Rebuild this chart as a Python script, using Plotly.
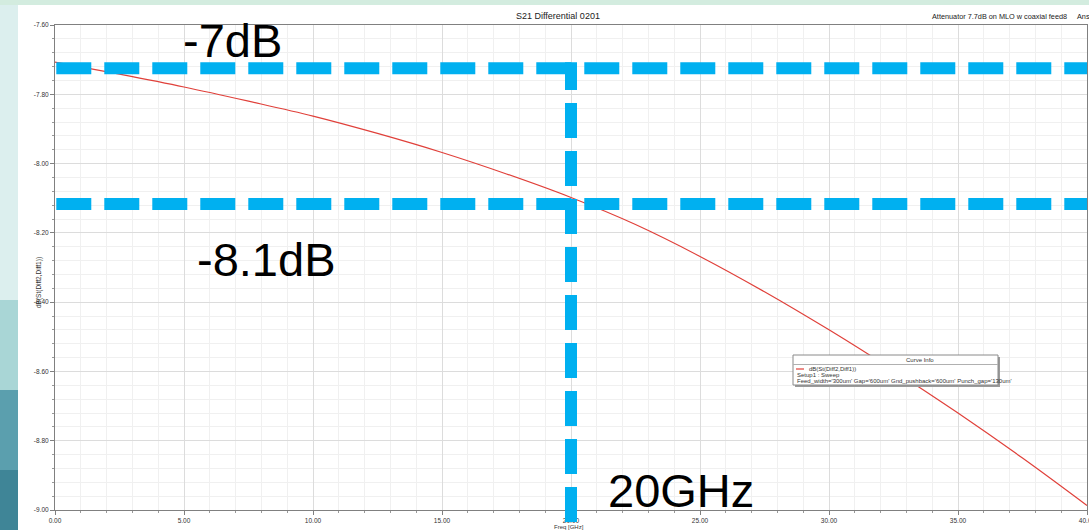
import plotly.graph_objects as go

# ---- data ----
freq_ghz = [0, 2.5, 5, 7.5, 10, 12.5, 15, 17.5, 20, 22.5, 25, 27.5, 30, 32.5, 35, 37.5, 40]
s21_db = [-7.707, -7.742, -7.779, -7.820, -7.863, -7.913, -7.968, -8.030, -8.098,
          -8.176, -8.268, -8.370, -8.480, -8.597, -8.720, -8.850, -8.987]

marker_levels_db = [-7.725, -8.117]
marker_freq_ghz = [20]
marker_labels = ["-7dB", "-8.1dB", "20GHz"]

x_tickvals = [0, 5, 10, 15, 20, 25, 30, 35, 40]
x_ticktext = ["0.00", "5.00", "10.00", "15.00", "20.00", "25.00", "30.00", "35.00", "40.00"]
y_tickvals = [-9.0, -8.8, -8.6, -8.4, -8.2, -8.0, -7.8, -7.6]
y_ticktext = ["-9.00", "-8.80", "-8.60", "-8.40", "-8.20", "-8.00", "-7.80", "-7.60"]

W, H = 1089, 530
L, R, T, B = 55, 2, 25, 20
PW, PH = W - L - R, H - T - B


def px(xpix):
    return (xpix - L) / PW


def py(ypix):
    return (H - B - ypix) / PH


BLUE = "#00B0F0"
FONT = "Arial, Liberation Sans, sans-serif"

fig = go.Figure()
fig.add_trace(go.Scatter(x=freq_ghz, y=s21_db, mode="lines", line=dict(color="#e0403a", width=1.2, shape="spline"),
                         name="dB(St(Diff2,Diff1))", showlegend=False, hoverinfo="x+y"))

shapes = []
# slide background pieces
shapes.append(dict(type="rect", xref="paper", yref="paper", x0=px(0), x1=px(W), y0=py(H), y1=py(0),
                   fillcolor="#dcefee", line=dict(width=0), layer="below"))
shapes.append(dict(type="rect", xref="paper", yref="paper", x0=px(0), x1=px(W), y0=py(5), y1=py(0),
                   fillcolor="#d3ecdf", line=dict(width=0), layer="below"))
shapes.append(dict(type="rect", xref="paper", yref="paper", x0=px(0), x1=px(18), y0=py(390), y1=py(300),
                   fillcolor="#a9d6d6", line=dict(width=0), layer="below"))
shapes.append(dict(type="rect", xref="paper", yref="paper", x0=px(0), x1=px(18), y0=py(470), y1=py(390),
                   fillcolor="#5b9fae", line=dict(width=0), layer="below"))
shapes.append(dict(type="rect", xref="paper", yref="paper", x0=px(0), x1=px(18), y0=py(H), y1=py(470),
                   fillcolor="#3f8597", line=dict(width=0), layer="below"))
# white chart panel
shapes.append(dict(type="rect", xref="paper", yref="paper", x0=px(18), x1=px(W + 5), y0=py(H + 5), y1=py(5),
                   fillcolor="white", line=dict(width=0), layer="below"))

# blue dashed marker lines
for lvl in marker_levels_db:
    shapes.append(dict(type="line", xref="x", yref="y", x0=0.05, x1=40, y0=lvl, y1=lvl,
                       line=dict(color=BLUE, width=12, dash="35px,13px"), layer="above"))
for f in marker_freq_ghz:
    shapes.append(dict(type="line", xref="x", yref="paper", x0=f, x1=f,
                       y0=py(522), y1=(marker_levels_db[0] + 9.0) / 1.4 + 6 / PH,
                       line=dict(color=BLUE, width=12, dash="35px,13px"), layer="above"))

# legend box ("Curve Info")
shapes.append(dict(type="rect", xref="paper", yref="paper", x0=px(795), x1=px(1000), y0=py(387), y1=py(357),
                   fillcolor="#9a9a9a", line=dict(width=0), layer="above"))
shapes.append(dict(type="rect", xref="paper", yref="paper", x0=px(793), x1=px(998), y0=py(385), y1=py(355),
                   fillcolor="white", line=dict(color="#8a8a8a", width=1), layer="above"))
shapes.append(dict(type="line", xref="paper", yref="paper", x0=px(793), x1=px(998), y0=py(364.5), y1=py(364.5),
                   line=dict(color="#b0b0b0", width=1), layer="above"))
shapes.append(dict(type="line", xref="paper", yref="paper", x0=px(796), x1=px(804), y0=py(369), y1=py(369),
                   line=dict(color="#e0403a", width=1.2), layer="above"))

annotations = []


def ann(text, xpix, ypix, size, xanchor="center", color="black", yanchor="middle"):
    annotations.append(dict(text=text, x=px(xpix), y=py(ypix), xref="paper", yref="paper",
                            showarrow=False, xanchor=xanchor, yanchor=yanchor,
                            font=dict(family=FONT, size=size, color=color)))


ann("S21 Differential 0201", 558, 16, 9, color="#222")
ann("Attenuator 7.7dB on MLO w coaxial feed8", 1069, 16, 7.3, xanchor="right", color="#222")
ann("Ans", 1075, 16, 7.3, xanchor="left", color="#222")
ann("Freq [GHz]", 569, 526.5, 6, color="#333")
annotations.append(dict(text="dB(St(Diff2,Diff1))", x=px(33), y=py(283), xref="paper", yref="paper",
                        showarrow=False, textangle=-90, font=dict(family=FONT, size=6.5, color="#333")))

ann("Curve Info", 920, 360, 6, color="#333")
ann("dB(St(Diff2,Diff1))", 807, 369, 6, xanchor="left", color="#333")
ann("Setup1 : Sweep", 795, 375, 6, xanchor="left", color="#333")
ann("Feed_width='300um' Gap='600um' Gnd_pushback='600um' Punch_gap='130um'", 795, 381, 6,
    xanchor="left", color="#333")

ann(marker_labels[0], 232, 40, 47)
ann(marker_labels[1], 266, 259, 47)
ann(marker_labels[2], 681, 490, 47)

fig.update_layout(
    width=W, height=H,
    margin=dict(l=L, r=R, t=T, b=B, pad=0),
    paper_bgcolor="#dcefee",
    plot_bgcolor="white",
    shapes=shapes,
    annotations=annotations,
    showlegend=False,
    font=dict(family=FONT, size=7, color="#333"),
)
fig.update_xaxes(range=[0, 40], tickvals=x_tickvals, ticktext=x_ticktext, ticks="outside", ticklen=4,
                 tickcolor="#808080", showline=True, linecolor="#808080", linewidth=1, mirror=True,
                 showgrid=True, gridcolor="#dcdcdc", gridwidth=1, zeroline=False, automargin=False,
                 ticklabeloverflow="allow",
                 tickfont=dict(size=6.5, color="#333"),
                 minor=dict(dtick=1, tick0=0, ticks="outside", ticklen=2, tickcolor="#999",
                            showgrid=True, gridcolor="#f0f0f0"))
fig.update_yaxes(range=[-9.0, -7.6], tickvals=y_tickvals, ticktext=y_ticktext, ticks="outside", ticklen=4,
                 tickcolor="#808080", showline=True, linecolor="#808080", linewidth=1, mirror=True,
                 showgrid=True, gridcolor="#dcdcdc", gridwidth=1, zeroline=False, automargin=False,
                 tickfont=dict(size=6.5, color="#333"),
                 minor=dict(dtick=0.04, tick0=-9.0, ticks="outside", ticklen=2, tickcolor="#999",
                            showgrid=True, gridcolor="#f0f0f0"))

fig.write_html("out.html", config={"displayModeBar": False},
               post_script="document.body.style.margin='0';document.body.style.overflow='hidden';")
